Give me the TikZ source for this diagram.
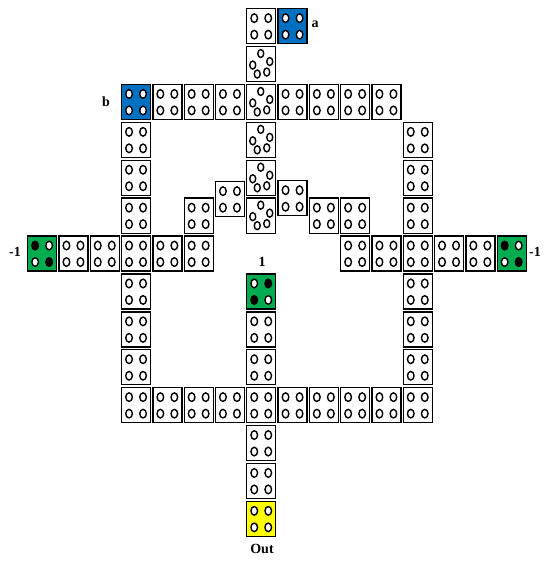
\documentclass[tikz,border=0pt]{standalone}
\usepackage{fontspec}
\setmainfont{Liberation Serif}
\definecolor{cblue}{RGB}{0,112,192}
\definecolor{cgreen}{RGB}{0,172,80}
\definecolor{cyellow}{RGB}{255,255,0}
\tikzset{
  cellbox/.style={draw=black, line width=1.3pt, fill=white, minimum width=29pt,
    minimum height=35pt, inner sep=0pt, anchor=north west},
  hole/.style={draw=black, line width=1.4pt, fill=white},
  holes/.style n args={4}{path picture={
    \draw[hole,fill=#1] ([shift={(-7,-8)}]path picture bounding box.center) ellipse [x radius=3.3pt, y radius=4.3pt];
    \draw[hole,fill=#2] ([shift={(7,-8)}]path picture bounding box.center) ellipse [x radius=3.3pt, y radius=4.3pt];
    \draw[hole,fill=#3] ([shift={(-7,8.5)}]path picture bounding box.center) ellipse [x radius=3.3pt, y radius=4.3pt];
    \draw[hole,fill=#4] ([shift={(7,8.5)}]path picture bounding box.center) ellipse [x radius=3.3pt, y radius=4.3pt];
  }},
  four/.style={holes={white}{white}{white}{white}},
  five/.style={path picture={
    \draw[hole] ([shift={(-0.5,-10.5)}]path picture bounding box.center) ellipse [x radius=3pt, y radius=4pt];
    \draw[hole] ([shift={(8.5,-2.5)}]path picture bounding box.center) ellipse [x radius=3pt, y radius=4pt];
    \draw[hole] ([shift={(5.5,8)}]path picture bounding box.center) ellipse [x radius=3pt, y radius=4pt];
    \draw[hole] ([shift={(-4,10)}]path picture bounding box.center) ellipse [x radius=3pt, y radius=4pt];
    \draw[hole] ([shift={(-8.5,1)}]path picture bounding box.center) ellipse [x radius=3pt, y radius=4pt];
  }},
  lbl/.style={font=\fontsize{14}{16}\selectfont\bfseries, inner sep=0pt},
}
\newcommand\gcell[4]{\node[cellbox,#4] (#1) at ({27+31.3*(#2)},{8+37.9*(#3)}) {};}
\begin{document}
\begin{tikzpicture}[x=1pt,y=-1pt]
\useasboundingbox (0,0) rectangle (543,561);
% row 0
\gcell{r0c7}{7}{0}{four}
\gcell{a}{8}{0}{fill=cblue,four}
% row 1
\gcell{r1c7}{7}{1}{five}
% row 2
\gcell{b}{3}{2}{fill=cblue,four}
\foreach \c in {4,5,6,8,9,10,11} {\gcell{r2c\c}{\c}{2}{four}}
\gcell{r2c7}{7}{2}{five}
% rows 3-5
\foreach \r in {3,4,5} {\gcell{r\r c3}{3}{\r}{four} \gcell{r\r c12}{12}{\r}{four} \gcell{r\r c7}{7}{\r}{five}}
\gcell{h6}{6}{4.565}{four}
\gcell{h8}{8}{4.54}{four}
\foreach \c in {5,9,10} {\gcell{r5c\c}{\c}{5}{four}}
% row 6
\gcell{ml}{0}{6}{fill=cgreen,holes={black}{white}{white}{black}}
\foreach \c in {1,2,3,4,5,10,11,12,13,14} {\gcell{r6c\c}{\c}{6}{four}}
\gcell{mr}{15}{6}{fill=cgreen,holes={black}{white}{white}{black}}
% rows 7-9
\gcell{one}{7}{7}{fill=cgreen,holes={white}{black}{black}{white}}
\foreach \r in {7,8,9} {\gcell{r\r c3}{3}{\r}{four} \gcell{r\r c12}{12}{\r}{four}}
\foreach \r in {8,9} {\gcell{r\r c7}{7}{\r}{four}}
% row 10
\foreach \c in {3,...,12} {\gcell{r10c\c}{\c}{10}{four}}
% rows 11-13
\gcell{r11c7}{7}{11}{four}
\gcell{r12c7}{7}{12}{four}
\gcell{out}{7}{13}{fill=cyellow,four}
% labels
\node[lbl] (la) at (315,24) {a};
\node[lbl] (lb) at (106,102) {b};
\node[lbl] (lml) at (15,252) {-1};
\node[lbl] (lmr) at (535,252) {-1};
\node[lbl] (lone) at (262,262) {1};
\node[lbl] (lout) at (262,549) {Out};
\end{tikzpicture}
\end{document}
